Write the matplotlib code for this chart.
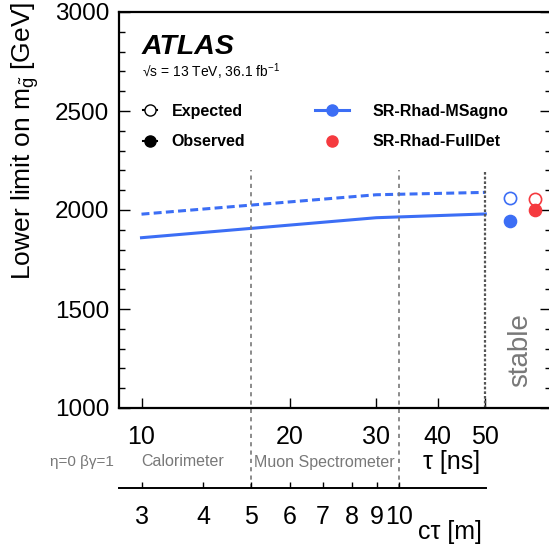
import matplotlib
matplotlib.use('Agg')
import matplotlib.pyplot as plt
import matplotlib.transforms as mtransforms
from matplotlib.lines import Line2D
from matplotlib.ticker import FixedLocator, NullLocator, MultipleLocator, FixedFormatter

plt.rcParams['font.family'] = ['Liberation Sans', 'DejaVu Sans']
plt.rcParams['mathtext.fontset'] = 'custom'
plt.rcParams['mathtext.rm'] = 'Liberation Sans'
plt.rcParams['mathtext.it'] = 'Liberation Sans:italic'
plt.rcParams['mathtext.bf'] = 'Liberation Sans:bold'

# gluino lifetime (ns) and limits for SR-Rhad-MSagno
tau_ns = [10, 30, 50]
expected_msagno = [1979, 2077, 2089]
observed_msagno = [1860, 1961, 1980]

# stable gluino limits
stable_labels = ['SR-Rhad-MSagno', 'SR-Rhad-FullDet']
stable_expected = [2059, 2054]
stable_observed = [1946, 1999]

tau_ticks = [10, 20, 30, 40, 50]
ctau_ticks = [3, 4, 5, 6, 7, 8, 9, 10]
detector_ctau = [5, 10]   # m, end of calorimeter / muon spectrometer
stable_tau = 50

C_M_PER_NS = 0.299792458
BLUE = '#3c6ef5'
RED = '#f53a3f'
GREY = '#787878'

W, H = 549, 548
fig = plt.figure(figsize=(W / 100, H / 100), dpi=100)
ax = fig.add_axes([119 / W, 1 - 408 / H, (551 - 119) / W, (408 - 12) / H])
ax.set_xscale('log')
ax.set_xlim(9.0, 68)
ax.set_ylim(1000, 3000)

# limit curves
ax.plot(tau_ns, expected_msagno, color=BLUE, lw=2.2, dashes=(2.6, 1.4))
ax.plot(tau_ns, observed_msagno, color=BLUE, lw=2.2)

# stable points, placed in the slot right of the last lifetime
slot_x = [0.905, 0.963]
colors = [BLUE, RED]
trans = mtransforms.blended_transform_factory(ax.transAxes, ax.transData)
for i in range(len(stable_labels)):
    ax.plot(slot_x[i], stable_expected[i], 'o', ms=8.8, mfc='white', mec=colors[i],
            mew=1.2, transform=trans, clip_on=False)
    ax.plot(slot_x[i], stable_observed[i], 'o', ms=8.8, color=colors[i],
            transform=trans, clip_on=False)

# detector boundaries and stable line
for c in detector_ctau:
    ax.axvline(c / C_M_PER_NS, ymin=-0.202, ymax=0.601, color=GREY, lw=1.2,
               ls=(0, (2.5, 2.5)), clip_on=False)
ax.axvline(stable_tau, ymin=0, ymax=0.601, color='#555555', lw=1.6,
           ls=(0, (1.2, 0.9)))

# axes styling
ax.yaxis.set_major_locator(MultipleLocator(500))
ax.yaxis.set_minor_locator(MultipleLocator(100))
ax.xaxis.set_major_locator(FixedLocator(tau_ticks))
ax.xaxis.set_major_formatter(FixedFormatter([str(t) for t in tau_ticks]))
ax.xaxis.set_minor_locator(NullLocator())
ax.tick_params(axis='y', which='both', direction='in', left=True, right=True,
               labelsize=17.5, pad=7)
ax.tick_params(axis='y', which='major', length=8, width=1)
ax.tick_params(axis='y', which='minor', length=4, width=1)
ax.tick_params(axis='x', which='major', direction='in', length=7, width=1,
               labelsize=18, pad=12)
for s in ['left', 'bottom', 'top']:
    ax.spines[s].set_linewidth(1.6)
ax.spines['right'].set_visible(False)

# c*tau axis below
ax2 = fig.add_axes([119 / W, 1 - 488 / H, (486 - 119) / W, 0.0001])
ax2.set_xscale('log')
ax2.set_xlim(9.0 * C_M_PER_NS, stable_tau * C_M_PER_NS)
ax2.patch.set_visible(False)
for s in ['left', 'right', 'top']:
    ax2.spines[s].set_visible(False)
ax2.spines['bottom'].set_linewidth(1.4)
ax2.set_yticks([])
ax2.xaxis.set_major_locator(FixedLocator(ctau_ticks))
ax2.xaxis.set_major_formatter(FixedFormatter([str(c) for c in ctau_ticks]))
ax2.xaxis.set_minor_locator(NullLocator())
ax2.tick_params(axis='x', direction='in', length=4, width=1, labelsize=18, pad=12)

# labels
fig.text(25 / W, 1 - 2 / H, r'Lower limit on m$_{\tilde{\mathrm{g}}}$ [GeV]', rotation=90,
         ha='center', va='top', fontsize=19)
fig.text(452 / W, 1 - 462 / H, r'τ [ns]', ha='center', va='center', fontsize=18)
fig.text(450 / W, 1 - 532 / H, r'cτ [m]', ha='center', va='center', fontsize=18)
fig.text(82 / W, 1 - 462 / H, 'η=0 βγ=1', ha='center', va='center', fontsize=11, color=GREY)
fig.text(183 / W, 1 - 462 / H, 'Calorimeter', ha='center', va='center', fontsize=11.5, color=GREY)
fig.text(324 / W, 1 - 462 / H, 'Muon Spectrometer', ha='center', va='center', fontsize=11.5, color=GREY)
fig.text(520 / W, 1 - 350 / H, 'stable', rotation=90, ha='center', va='center',
         fontsize=20, color=GREY)

fig.text(142 / W, 1 - 47 / H, 'ATLAS', fontsize=20.5, fontweight='bold', fontstyle='italic',
         ha='left', va='center')
fig.text(142 / W, 1 - 72 / H, '√s = 13 TeV, 36.1 fb$^{-1}$', fontsize=10,
         ha='left', va='center')

# legends
h1 = [Line2D([], [], color='black', marker='o', ms=8, mfc='white', mec='black', lw=1.5),
      Line2D([], [], color='black', marker='o', ms=8, lw=1.5)]
leg1 = ax.legend(h1, ['Expected', 'Observed'], loc='upper left',
                 bbox_to_anchor=(143 / W, 1 - 104 / H), bbox_transform=fig.transFigure,
                 frameon=False, borderpad=0, borderaxespad=0, handlelength=0.9,
                 handletextpad=0.9, labelspacing=0.95, prop={'weight': 'bold', 'size': 11.5})
ax.add_artist(leg1)
h2 = [Line2D([], [], color=BLUE, marker='o', ms=8, lw=2.2),
      Line2D([], [], color=RED, marker='o', ms=8, lw=0)]
ax.legend(h2, stable_labels, loc='upper left',
          bbox_to_anchor=(315 / W, 1 - 104 / H), bbox_transform=fig.transFigure,
          frameon=False, borderpad=0, borderaxespad=0, handlelength=2.1,
          handletextpad=1.5, labelspacing=0.95, prop={'weight': 'bold', 'size': 11.5})

fig.savefig('out.png', dpi=100)
